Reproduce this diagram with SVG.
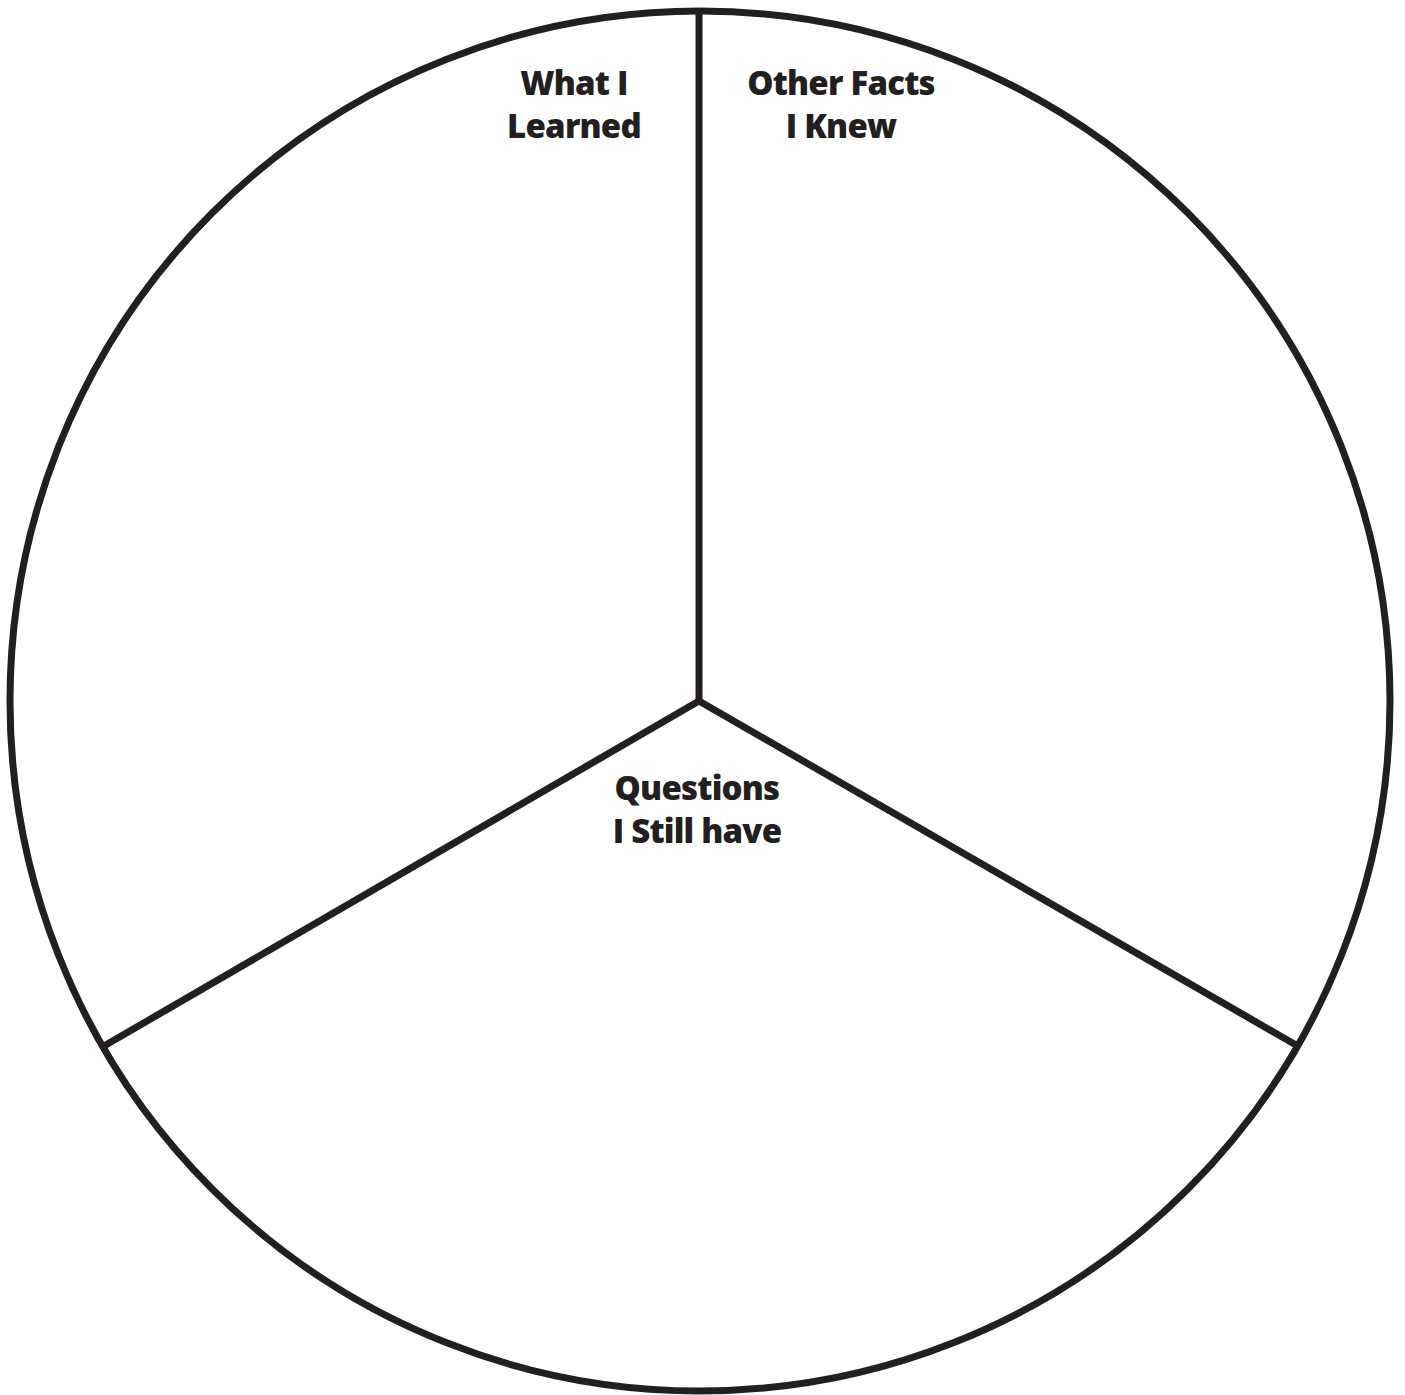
<svg xmlns="http://www.w3.org/2000/svg" width="1405" height="1395" viewBox="0 0 1405 1395">
<style>
.ln{stroke:#231f20;stroke-width:7;fill:none}
.t{font-family:"Open Sans","Liberation Sans",sans-serif;font-weight:800;font-size:33px;letter-spacing:-0.8px;fill:#231f20;text-anchor:middle}
</style>
<rect width="1405" height="1395" fill="#fff"/>
<g id="circle"><circle class="ln" cx="700" cy="701" r="690"/></g>
<g id="connectors">
<line class="ln" x1="699" y1="11" x2="699" y2="701"/>
<line class="ln" x1="699" y1="701" x2="104" y2="1046"/>
<line class="ln" x1="699" y1="701" x2="1296" y2="1045"/>
</g>
<g id="what-i-learned"><text class="t" x="574" y="95">What I</text><text class="t" x="574" y="138">Learned</text></g>
<g id="other-facts"><text class="t" x="841" y="95">Other Facts</text><text class="t" x="841" y="138">I Knew</text></g>
<g id="questions"><text class="t" x="697" y="800">Questions</text><text class="t" x="697" y="843">I Still have</text></g>
</svg>
